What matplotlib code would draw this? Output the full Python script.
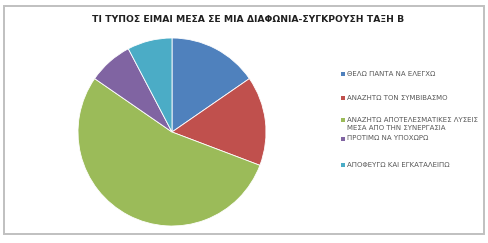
import matplotlib.pyplot as plt
from matplotlib.patches import Rectangle

title = "ΤΙ ΤΥΠΟΣ ΕΙΜΑΙ ΜΕΣΑ ΣΕ ΜΙΑ ΔΙΑΦΩΝΙΑ-ΣΥΓΚΡΟΥΣΗ ΤΑΞΗ Β"
labels = [
    "ΘΕΛΩ ΠΑΝΤΑ ΝΑ ΕΛΕΓΧΩ",
    "ΑΝΑΖΗΤΩ ΤΟΝ ΣΥΜΒΙΒΑΣΜΟ",
    "ΑΝΑΖΗΤΩ ΑΠΟΤΕΛΕΣΜΑΤΙΚΕΣ ΛΥΣΕΙΣ\nΜΕΣΑ ΑΠΟ ΤΗΝ ΣΥΝΕΡΓΑΣΙΑ",
    "ΠΡΟΤΙΜΩ ΝΑ ΥΠΟΧΩΡΩ",
    "ΑΠΟΦΕΥΓΩ ΚΑΙ ΕΓΚΑΤΑΛΕΙΠΩ",
]
values = [2, 2, 7, 1, 1]
colors = ["#4F81BD", "#C0504D", "#9BBB59", "#8064A2", "#4BACC6"]

W, H = 489, 243
fig = plt.figure(figsize=(W / 100, H / 100), dpi=100)
fig.patch.set_facecolor("white")

# chart frame
fig.add_artist(Rectangle((4 / W, 1 - 234 / H), 480 / W, 228 / H,
                         transform=fig.transFigure, fill=False,
                         edgecolor="#c0c0c0", linewidth=1.4))

fig.text(248 / W, 1 - 19 / H, title, ha="center", va="center",
         fontsize=6.7, fontweight="bold", family="Liberation Sans Narrow",
         color="#202020")

# pie axes: centre (172, 132), radius ~94 px
cx, cy, r = 172, 132, 94
ax = fig.add_axes([(cx - r) / W, 1 - (cy + r) / H, 2 * r / W, 2 * r / H])
wedges, _ = ax.pie(values, colors=colors, startangle=90, counterclock=False,
                   radius=1.0, wedgeprops=dict(edgecolor="white", linewidth=0.6))
ax.set_xlim(-1, 1)
ax.set_ylim(-1, 1)
ax.set_aspect("equal")
ax.axis("off")

# legend, laid out by hand like the excel one (marker on first line)
row_y = [74, 98, 120, 139, 165]
for lab, col, y in zip(labels, colors, row_y):
    fig.add_artist(Rectangle((341 / W, 1 - (y + 2) / H), 4 / W, 4 / H,
                             transform=fig.transFigure, facecolor=col,
                             edgecolor="none"))
    fig.text(347 / W, 1 - (y - 3.5) / H, lab, ha="left", va="top",
             fontsize=5.0, family="Liberation Sans Narrow", color="#595959",
             linespacing=1.4)

fig.savefig("out.png", dpi=100)
